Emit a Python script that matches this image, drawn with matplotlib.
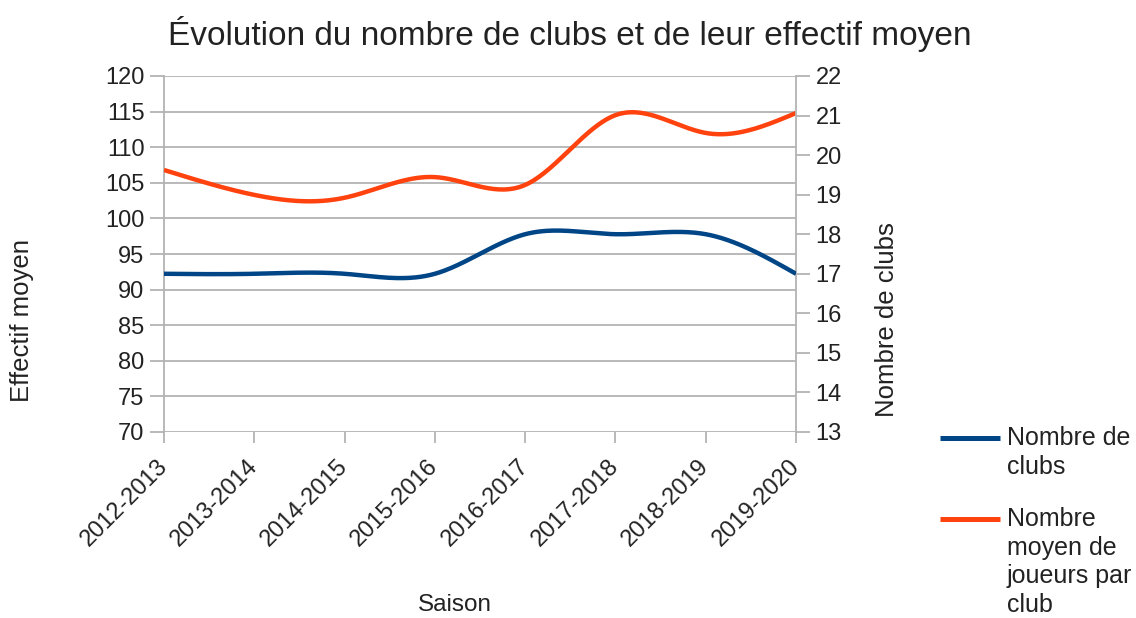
import numpy as np
import matplotlib.pyplot as plt
from matplotlib.lines import Line2D

# Data
saisons = ['2012-2013', '2013-2014', '2014-2015', '2015-2016',
           '2016-2017', '2017-2018', '2018-2019', '2019-2020']
nb_clubs = [17, 17, 17, 17, 18, 18, 18, 17]
effectif_moyen = [106.8, 103.3, 102.9, 105.8, 104.7, 114.5, 112.0, 114.8]

BLUE = '#004586'
ORANGE = '#ff420e'
GRID = '#b3b3b3'
W, H = 1136, 618


def smooth(y, n=400):
    # natural cubic spline through the points (like the office "smooth" line)
    y = np.asarray(y, dtype=float)
    k = len(y)
    A = np.zeros((k, k))
    b = np.zeros(k)
    A[0, 0] = A[-1, -1] = 1
    for i in range(1, k - 1):
        A[i, i - 1] = 1
        A[i, i] = 4
        A[i, i + 1] = 1
        b[i] = 6 * (y[i + 1] - 2 * y[i] + y[i - 1])
    m = np.linalg.solve(A, b)
    xs = np.linspace(0, k - 1, n)
    idx = np.clip(np.floor(xs).astype(int), 0, k - 2)
    t = xs - idx
    ys = ((1 - t) * y[idx] + t * y[idx + 1]
          + ((1 - t) ** 3 - (1 - t)) * m[idx] / 6
          + (t ** 3 - t) * m[idx + 1] / 6)
    return xs, ys


plt.rcParams['font.family'] = ['Liberation Sans', 'DejaVu Sans']

fig = plt.figure(figsize=(W / 100, H / 100), dpi=100)
ax = fig.add_axes([164 / W, 1 - 432 / H, 632 / W, 356 / H])
ax2 = ax.twinx()

x = np.arange(len(saisons))
xs, ys = smooth(effectif_moyen)
ax.plot(xs, ys, color=ORANGE, lw=3.2, solid_capstyle='butt', zorder=3)
xs, ys = smooth(nb_clubs)
ax2.plot(xs, ys, color=BLUE, lw=3.2, solid_capstyle='butt', zorder=3)

ax.set_xlim(0, len(saisons) - 1)
ax.set_ylim(70, 120)
ax.set_yticks(np.arange(70, 121, 5))
ax2.set_ylim(13, 22)
ax2.set_yticks(np.arange(13, 23, 1))
ax.set_xticks(x)
ax.set_xticklabels(saisons, rotation=45, ha='right', va='center',
                   rotation_mode='anchor')

ax.grid(axis='y', color=GRID, lw=1.3)
ax.set_axisbelow(True)
for a in (ax, ax2):
    for s in a.spines.values():
        s.set_visible(False)
    a.tick_params(colors=GRID, labelcolor='#222222', labelsize=17,
                  length=10, width=1.3, pad=4)
ax.spines['left'].set_visible(True)
ax.spines['left'].set_color(GRID)
ax.spines['left'].set_linewidth(1.3)
ax2.spines['right'].set_visible(True)
ax2.spines['right'].set_color(GRID)
ax2.spines['right'].set_linewidth(1.3)
ax.tick_params(axis='x', length=8, pad=14)

fig.text(22 / W, 1 - 320 / H, 'Effectif moyen', fontsize=18.5, rotation=90,
         ha='center', va='center', color='#222222')
fig.text(887 / W, 1 - 320 / H, 'Nombre de clubs', fontsize=18.5, rotation=90,
         ha='center', va='center', color='#222222')
fig.text(455 / W, 1 - 605 / H, 'Saison', fontsize=17.5, ha='center',
         va='center', color='#222222')

fig.text(570 / W, 1 - 34 / H,
         'Évolution du nombre de clubs et de leur effectif moyen',
         fontsize=24, ha='center', va='center', color='#222222')

# legend, handle aligned with the first line of each label
legend_items = [(BLUE, 'Nombre de\nclubs', 438),
                (ORANGE, 'Nombre\nmoyen de\njoueurs par\nclub', 519)]
for color, label, ly in legend_items:
    fig.add_artist(Line2D([940 / W, 1000 / W], [1 - ly / H, 1 - ly / H],
                          color=color, lw=3.6, solid_capstyle='butt'))
    fig.text(1007 / W, 1 - (ly - 12) / H, label, fontsize=18, ha='left',
             va='top', color='#222222', linespacing=1.25)

fig.savefig('out.png', dpi=100)
